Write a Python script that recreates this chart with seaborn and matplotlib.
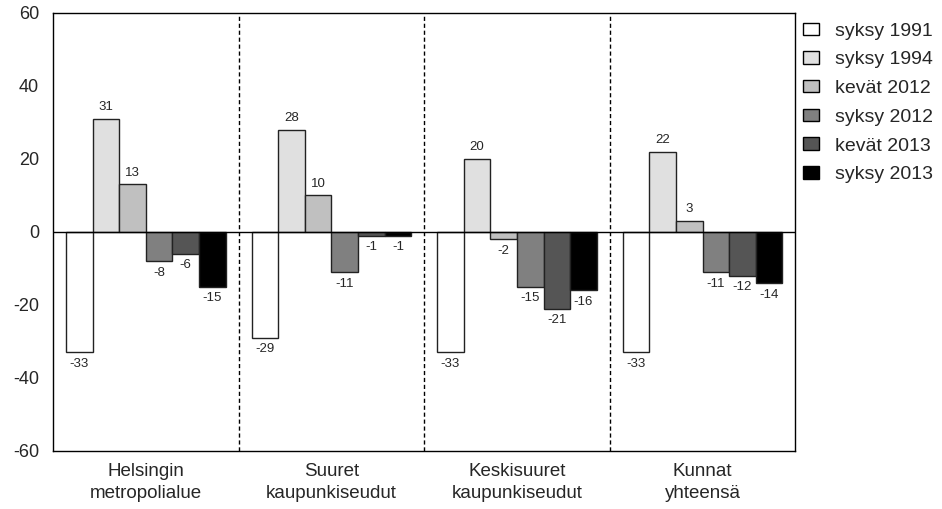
import pandas as pd
import numpy as np
import matplotlib
matplotlib.use("Agg")
import matplotlib.pyplot as plt
import seaborn as sns

regions = ["Helsingin\nmetropolialue", "Suuret\nkaupunkiseudut",
           "Keskisuuret\nkaupunkiseudut", "Kunnat\nyhteensä"]
periods = ["syksy 1991", "syksy 1994", "kevät 2012", "syksy 2012", "kevät 2013", "syksy 2013"]
syksy_1991 = [-33, -29, -33, -33]
syksy_1994 = [31, 28, 20, 22]
kevat_2012 = [13, 10, -2, 3]
syksy_2012 = [-8, -11, -15, -11]
kevat_2013 = [-6, -1, -21, -12]
syksy_2013 = [-15, -1, -16, -14]
colors = ["#ffffff", "#e0e0e0", "#c0c0c0", "#808080", "#555555", "#000000"]

series = [syksy_1991, syksy_1994, kevat_2012, syksy_2012, kevat_2013, syksy_2013]
rows = []
for p, vals in zip(periods, series):
    for r, v in zip(regions, vals):
        rows.append({"alue": r, "jakso": p, "arvo": v})
df = pd.DataFrame(rows)

sns.set_style("white")
plt.rcParams['font.family'] = ['Liberation Sans', 'DejaVu Sans']
plt.rcParams['axes.unicode_minus'] = False

fig = plt.figure(figsize=(9.42, 5.09), dpi=100)
ax = fig.add_axes([0.0563, 0.114, 0.788, 0.861])
sns.barplot(data=df, x="alue", y="arvo", hue="jakso", hue_order=periods,
            order=regions, palette=colors, width=0.86, edgecolor="#222222",
            linewidth=1, ax=ax, legend=False)

for c in ax.containers:
    ax.bar_label(c, fmt="%d", padding=4, fontsize=9.5)

ax.axhline(0, color="black", lw=1)
for x in [0.5, 1.5, 2.5]:
    ax.axvline(x, color="black", lw=1, ls=(0, (3, 2)))

ax.set_ylim(-60, 60)
ax.set_xlim(-0.5, 3.5)
ax.set_yticks([-60, -40, -20, 0, 20, 40, 60])
ax.tick_params(axis="y", labelsize=13, length=0, pad=10)
ax.tick_params(axis="x", labelsize=13.5, length=0, pad=9)
for t in ax.get_xticklabels():
    t.set_linespacing(1.35)
ax.set_xlabel("")
ax.set_ylabel("")
for s in ax.spines.values():
    s.set_color("black")
    s.set_linewidth(1)

handles = [plt.Rectangle((0, 0), 1, 1, facecolor=c, edgecolor="black", lw=1) for c in colors]
fig.legend(handles, periods, loc="upper left", bbox_to_anchor=(0.848, 0.963),
           frameon=False, fontsize=14, handlelength=0.85, handleheight=0.6,
           labelspacing=0.6, handletextpad=0.8, borderaxespad=0, borderpad=0.2)

fig.savefig("out.png", dpi=100)
